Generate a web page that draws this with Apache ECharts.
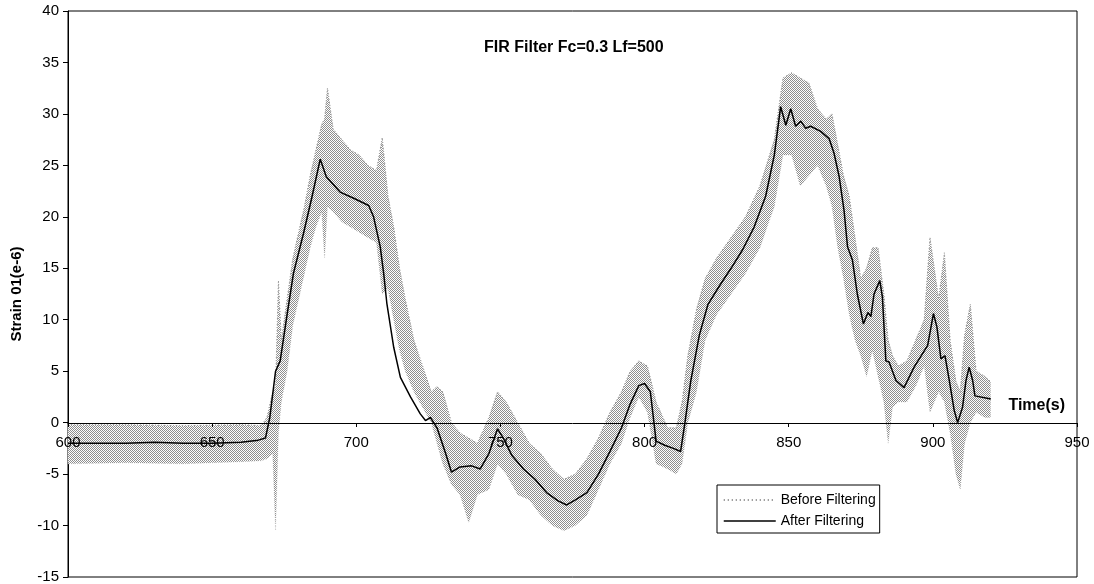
<!DOCTYPE html>
<html>
<head>
<meta charset="utf-8">
<script src="https://cdn.jsdelivr.net/npm/echarts@6/dist/echarts.min.js"></script>
<style>
html,body{margin:0;padding:0;background:#fff;}
#chart{width:1094px;height:584px;}
</style>
</head>
<body>
<div id="chart"></div>
<script>
// ---- data ----
const xTicks = [600, 650, 700, 750, 800, 850, 900, 950];
const yTicks = [-15, -10, -5, 0, 5, 10, 15, 20, 25, 30, 35, 40];

// After Filtering (black line)
const filtTime = [600,610,620,630,640,650,660,666,668.5,670,672,673.6,676,678.2,681.7,684.6,687.5,689.6,694.4,699.1,704.3,706,708.3,709.5,710.6,713,715.3,718.8,722.2,724,725.7,728,731,733,736,740,743,746,749,751,754,758,762,766,770,773,776,780,784,788,792,795,798,800,802,804,807,810,812.5,814,816,819,822,826,830,834,838,842,845,847.2,849,850.7,852.4,854.2,855.9,857.6,861.1,864,865.7,867.5,869.2,870.4,872.1,873.8,875.9,877.5,878.5,879.6,881.6,882.5,883.7,884.8,887.2,890,893.5,898.2,900.2,901.4,902.8,904.2,905.7,907.4,908.6,910.3,911.5,912.6,913.8,914.6,920.1];
const filtered = [-2.0,-2.0,-2.0,-1.9,-2.0,-2.0,-1.9,-1.7,-1.5,0.5,5.0,6.0,10.5,14.5,18.4,21.9,25.6,23.9,22.4,21.8,21.1,20.0,17.1,14.5,11.6,7.3,4.4,2.5,0.85,0.2,0.5,-0.5,-3.0,-4.8,-4.3,-4.2,-4.5,-3.0,-0.6,-1.5,-3.2,-4.5,-5.5,-6.8,-7.6,-8.0,-7.5,-6.8,-5.0,-2.8,-0.5,1.8,3.6,3.8,3.0,-1.8,-2.2,-2.5,-2.8,0,4,8.5,11.5,13.3,15.0,16.8,19,22,26,30.7,28.9,30.5,28.8,29.3,28.6,28.8,28.3,27.6,26.2,23.9,20.6,17.1,15.8,12.5,9.6,10.7,10.3,12.5,13.8,12.2,6.0,5.9,4.1,3.4,5.4,7.5,10.6,9.3,6.2,6.5,4.1,1.2,0,1.5,4.1,5.4,4.1,2.6,2.3];

// Before Filtering (raw signal envelope: lowest / highest value of the noisy trace)
const rawTime = [600,620,640,660,667,669,671,672,673,674,676,678,680,682,684,686,688,689,690,692,695,698,701,704,707,709,711,713,715,717,720,723,726,728,730,733,736,739,742,746,749,752,756,760,764,768,772,776,780,784,788,792,795,798,801,804,808,811,813,815,818,821,825,830,835,840,845,848,851,854,857,860,863,865,867,869,871,873,875,877,879,881,883,884.5,886,888,891,894,897,899,902,904,906,908,909.5,911,913,915,918,920];
const rawLow  = [-4.0,-3.9,-4.0,-3.8,-3.7,-3.5,-3.0,-10.5,-1.0,2.0,5.0,9.5,12.0,14.5,17.0,19.0,20.5,16.0,21.0,20.5,19.5,19.0,18.5,18.0,17.5,12.5,13.0,10.0,7.0,5.0,3.0,1.5,0.0,-2.0,-4.0,-6.0,-7.0,-9.7,-7.0,-6.5,-4.0,-5.0,-7.0,-7.5,-9.0,-10.0,-10.5,-10.0,-9.0,-6.5,-4.0,-2.0,0.5,2.5,1.0,-4.0,-4.5,-5.0,-4.0,0,3.0,8.0,10.5,12.5,14.5,17.0,21.0,26.0,26.0,23.0,24.0,25.0,23.0,21.0,17.0,14.0,10.5,8.0,6.5,4.5,7.0,4.5,2.0,-2.0,1.5,2.0,2.0,3.5,5.5,1.0,3.0,2.0,-1.0,-5.0,-6.5,-2.0,0,1.0,0.5,0.5];
const rawHigh = [-0.2,-0.2,-0.3,-0.2,-0.3,0.5,3.0,3.5,13.8,8.0,12.0,16.0,18.5,21.0,24.0,26.5,29.0,29.5,32.5,28.5,27.5,26.5,26.0,25.0,24.5,27.7,22.0,19.0,15.0,12.0,8.0,5.5,3.0,3.5,3.0,0,-1.0,-1.5,-2.0,0.5,3.0,2.0,0,-2.0,-3.0,-4.5,-5.5,-5.0,-3.5,-1.5,1.0,3.0,5.0,6.0,5.5,2.0,-0.5,-0.5,2.0,6.5,11.0,14.0,16.0,18.0,20.0,23.0,27.5,33.5,34.0,33.5,33.0,30.5,29.5,30.0,27.0,24.0,22.0,18.0,14.0,15.0,17.0,17.0,12.5,8.0,6.5,5.5,6.0,8.0,10.0,18.0,12.0,16.5,8.0,4.0,3.0,8.5,11.5,5.0,4.5,4.0];

const titleText = 'FIR Filter Fc=0.3 Lf=500';
const xName = 'Time(s)';
const yName = 'Strain 01(e-6)';

// ---- chart ----
const FONT = '"Liberation Sans", Arial, sans-serif';
const GRID_TOP = 11, GRID_BOTTOM = 7, CH = 584;

// dotted texture like the raw trace drawn densely
const pc = document.createElement('canvas');
pc.width = 2; pc.height = 2;
const pctx = pc.getContext('2d');
pctx.fillStyle = '#ffffff'; pctx.fillRect(0, 0, 2, 2);
pctx.fillStyle = '#8e8e8e'; pctx.fillRect(0, 0, 1, 1); pctx.fillRect(1, 1, 1, 1);

const chart = echarts.init(document.getElementById('chart'), null, {renderer: 'canvas'});

const bandData = rawTime.map((t, i) => [t, rawLow[i], rawHigh[i]]);

// place the x axis on the zero line (like the reference) via an offset
const yMin = yTicks[0], yMax = yTicks[yTicks.length - 1];
const plotH = CH - GRID_TOP - GRID_BOTTOM;
const zeroOffset = -Math.round(plotH * (0 - yMin) / (yMax - yMin));

chart.setOption({
  animation: false,
  backgroundColor: '#fff',
  title: {
    text: titleText,
    left: 479, top: 35,
    textStyle: {fontFamily: FONT, fontSize: 16, fontWeight: 'bold', color: '#000'}
  },
  grid: {
    left: 68, right: 17, top: GRID_TOP, bottom: GRID_BOTTOM,
    outerBoundsMode: 'none',
    containLabel: false,
    show: true, borderColor: '#000', borderWidth: 1, backgroundColor: 'transparent'
  },
  legend: {
    orient: 'vertical',
    left: 717, top: 485,
    padding: [8, 4, 5, 6],
    itemGap: 7,
    itemWidth: 52, itemHeight: 14,
    itemTextGap: 4,
    borderColor: '#000', borderWidth: 1, borderRadius: 0,
    backgroundColor: '#fff',
    textStyle: {fontFamily: FONT, fontSize: 14, color: '#000'},
    data: [
      {name: 'Before Filtering', itemStyle: {opacity: 0}, lineStyle: {color: '#000', width: 1, type: [1, 3]}},
      {name: 'After Filtering', itemStyle: {opacity: 0}, lineStyle: {color: '#000', width: 1.5}}
    ]
  },
  xAxis: {
    type: 'value',
    position: 'bottom',
    offset: zeroOffset,
    z: 10,
    min: xTicks[0], max: xTicks[xTicks.length - 1], interval: 50,
    name: xName,
    nameLocation: 'end',
    nameGap: -12,
    nameTextStyle: {fontFamily: FONT, fontSize: 16, fontWeight: 'bold', color: '#000', align: 'right', verticalAlign: 'bottom', padding: [0, 0, 9, 0]},
    axisLine: {show: true, onZero: false, lineStyle: {color: '#000', width: 1}},
    axisTick: {show: true, length: 4, lineStyle: {color: '#000'}},
    axisLabel: {fontFamily: FONT, fontSize: 15, color: '#000', margin: 12},
    splitLine: {show: false}
  },
  yAxis: {
    type: 'value',
    min: yMin, max: yMax, interval: 5,
    name: yName,
    nameLocation: 'middle',
    nameGap: 44,
    nameTextStyle: {fontFamily: FONT, fontSize: 15, fontWeight: 'bold', color: '#000'},
    axisLine: {show: true, lineStyle: {color: '#000', width: 1}},
    axisTick: {show: true, length: 5, lineStyle: {color: '#000'}},
    axisLabel: {fontFamily: FONT, fontSize: 15, color: '#000', margin: 9},
    splitLine: {show: false}
  },
  series: [
    {
      name: 'Before Filtering',
      type: 'line',
      data: rawTime.map((t, i) => [t, rawHigh[i]]),
      symbol: 'none',
      itemStyle: {color: '#000'},
      lineStyle: {color: '#9a9a9a', width: 1, type: [1, 2]},
      z: 2,
      silent: true
    },
    {
      name: 'Before Filtering',
      type: 'custom',
      data: bandData,
      encode: {x: 0, y: [1, 2]},
      z: 1,
      silent: true,
      renderItem: function (params, api) {
        if (params.dataIndex !== 0) return null;
        const pts = [];
        for (let i = 0; i < bandData.length; i++) pts.push(api.coord([bandData[i][0], bandData[i][2]]));
        for (let i = bandData.length - 1; i >= 0; i--) pts.push(api.coord([bandData[i][0], bandData[i][1]]));
        return {
          type: 'polygon',
          shape: {points: pts},
          style: {fill: {image: pc, repeat: 'repeat'}, stroke: '#b5b5b5', lineWidth: 0.6, lineDash: [1, 2]}
        };
      }
    },
    {
      name: 'After Filtering',
      type: 'line',
      data: filtTime.map((t, i) => [t, filtered[i]]),
      symbol: 'none',
      itemStyle: {color: '#000'},
      lineStyle: {color: '#000', width: 1.5},
      z: 5
    }
  ]
});
</script>
</body>
</html>
